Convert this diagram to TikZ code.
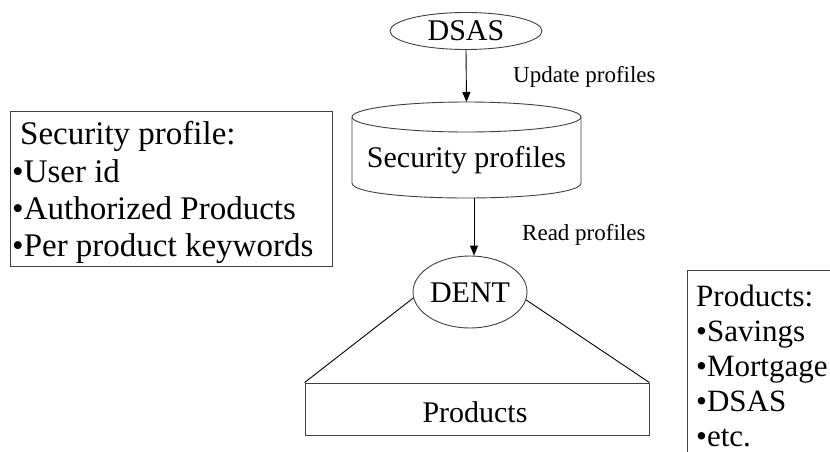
\documentclass[tikz,border=0pt]{standalone}
\usepackage{fontspec}
\setmainfont{Liberation Serif}
\usetikzlibrary{shapes.geometric,arrows.meta}
\begin{document}
\begin{tikzpicture}[x=1pt,y=-1pt,
  outl/.style={draw=black!75, line width=0.9pt},
  bigtext/.style={font=\fontsize{30}{36}\selectfont},
  listtext/.style={font=\fontsize{33}{38}\selectfont, anchor=base west, inner sep=0pt},
  rlisttext/.style={font=\fontsize{31}{36}\selectfont, anchor=base west, inner sep=0pt},
  lbl/.style={font=\fontsize{23}{27}\selectfont, anchor=base west, inner sep=0pt},
  conn/.style={draw=black, line width=0.9pt},
  arr/.style={conn, -{Triangle[length=10pt,width=8pt]}},
  oval/.style={outl, ellipse, inner sep=0pt, text height=20pt, text depth=0pt, bigtext}]
\useasboundingbox (0,0) rectangle (830,452);
\fill[white] (0,0) rectangle (830,452);

% DSAS
\node[oval, minimum width=152pt, minimum height=37pt] (dsas) at (466,31) {DSAS};

% cylinder
\draw[outl] (466.5,117) ellipse [x radius=114.5, y radius=15];
\draw[outl] (352,117) -- (352,183) .. controls (352,203) and (581,203) .. (581,183) -- (581,117);
\node[bigtext, anchor=base, inner sep=0pt] (sp) at (466.5,167) {Security profiles};
\coordinate (cyltop) at (466.5,102);
\coordinate (cylbot) at (474,198);

\draw[arr] (dsas.south) -- (cyltop);
\node[lbl] (upd) at (513,82) {Update profiles};

% DENT
\node[oval, minimum width=114pt, minimum height=72pt] (dent) at (470,292) {DENT};
\draw[arr] (cylbot) -- (cylbot |- dent.north);
\node[lbl] (rd) at (522,240) {Read profiles};

% Products box
\node[outl, minimum width=344pt, minimum height=52pt, inner sep=0pt] (prod) at (477,409) {};
\node[bigtext, anchor=base, inner sep=0pt] (prodtxt) at (475,422) {Products};
\draw[conn] (dent.186) -- (prod.north west);
\draw[conn] (dent.352) -- (prod.north east);

% Security profile box
\node[outl, anchor=north west, minimum width=322pt, minimum height=155pt, inner sep=0pt] (secbox) at (10,111) {};
\node[listtext] (s1) at (20,144) {Security profile:};
\node[listtext] (s2) at (12,182) {•User id};
\node[listtext] (s3) at (12,219) {•Authorized Products};
\node[listtext] (s4) at (12,256) {•Per product keywords};

% Products list box
\node[outl, anchor=north west, minimum width=200pt, minimum height=220pt, inner sep=0pt] (plist) at (687,270) {};
\node[rlisttext] (p1) at (696,306) {Products:};
\node[rlisttext] (p2) at (696,341) {•Savings};
\node[rlisttext] (p3) at (696,376) {•Mortgage};
\node[rlisttext] (p4) at (696,411) {•DSAS};
\node[rlisttext] (p5) at (696,446) {•etc.};
\end{tikzpicture}
\end{document}
